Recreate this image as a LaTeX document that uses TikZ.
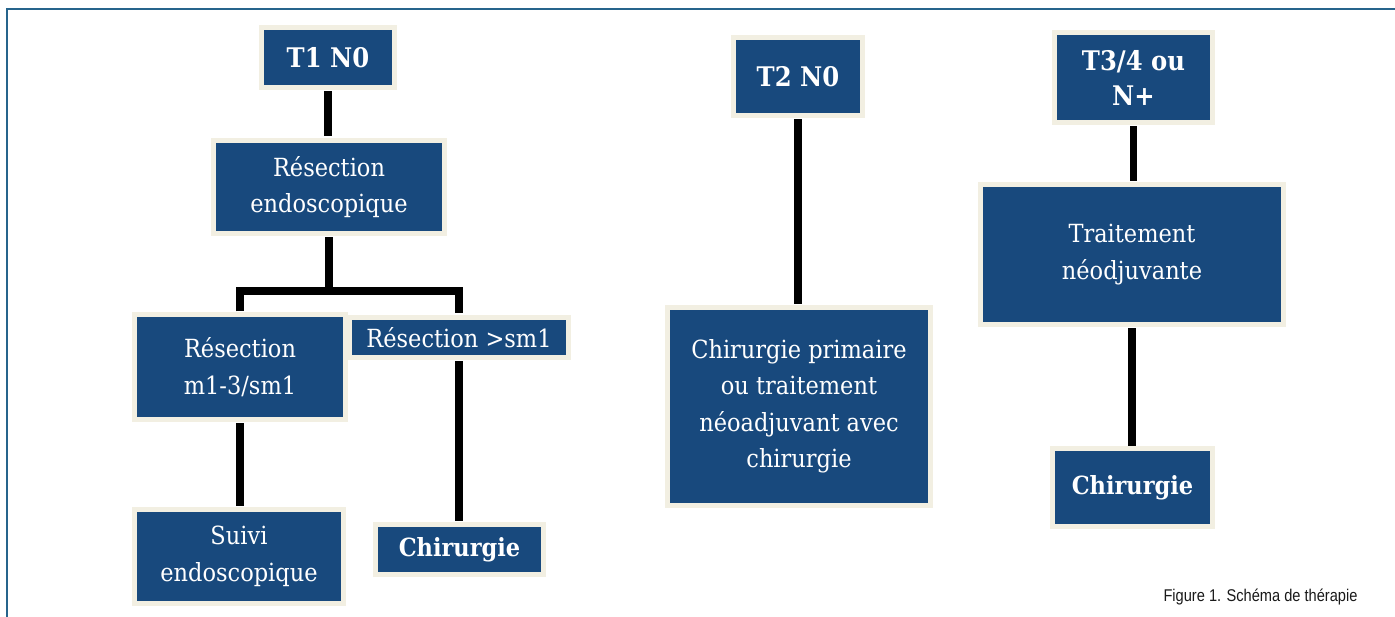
\documentclass[tikz,border=0pt]{standalone}
\usepackage{fontspec}
\setmainfont[FakeStretch=0.9]{DejaVu Serif}
\newfontfamily\capfont[FakeStretch=0.86]{Liberation Sans}
\usetikzlibrary{calc}
\definecolor{boxblue}{RGB}{24,73,125}
\definecolor{cream}{RGB}{242,239,226}
\definecolor{framec}{RGB}{38,100,140}
\tikzset{
  box/.style={rectangle, fill=boxblue, draw=cream, line width=5pt, text=white,
    align=center, outer sep=0pt, inner sep=0pt,
    font=\fontsize{25}{36.5}\selectfont},
  boldbox/.style={box, font=\bfseries\fontsize{27}{35}\selectfont},
  chirbox/.style={box, font=\bfseries\fontsize{25}{34}\selectfont},
  conn/.style={line width=7.5pt, black, line cap=butt, line join=miter},
  caption/.style={anchor=east, text=black!90, font=\capfont\fontsize{17}{19}\selectfont}
}
\begin{document}
\begin{tikzpicture}[x=1pt,y=-1pt]
\useasboundingbox (0,0) rectangle (1395,617);
% frame
\draw[framec, line width=1.6pt] (7,617) -- (7,9) -- (1395,9);

% left tree
\node[boldbox, minimum width=133pt, minimum height=60pt] (t1) at (328,57.5) {T1 N0};
\node[box, minimum width=231pt, minimum height=93pt] (res) at (329,187) {Résection\\endoscopique};
\node[box, minimum width=211pt, minimum height=105pt] (m1) at (240,367) {Résection\\m1-3/sm1};
\node[box, minimum width=219pt, minimum height=40pt] (sm1) at (459,337.5) {Résection >sm1};
\node[box, minimum width=209pt, minimum height=94pt] (suivi) at (239,556.5) {Suivi\\endoscopique};
\node[chirbox, minimum width=168pt, minimum height=50pt] (chir1) at (459.5,549.5) {Chirurgie};

% middle
\node[boldbox, minimum width=129pt, minimum height=78pt] (t2) at (798,76.5) {T2 N0};
\node[box, minimum width=263pt, minimum height=198pt] (prim) at (799,406.5) {Chirurgie primaire\\ou traitement\\néoadjuvant avec\\chirurgie};

% right
\node[boldbox, minimum width=158pt, minimum height=90pt] (t3) at (1133.5,77.5) {T3/4 ou\\N+};
\node[box, minimum width=303pt, minimum height=140pt] (trait) at (1132,254.5) {Traitement\\néodjuvante};
\node[chirbox, minimum width=160pt, minimum height=78pt] (chir2) at (1132.5,487.5) {Chirurgie};

% connectors
\coordinate (brm) at (331,291);
\draw[conn, shorten <=4pt, shorten >=4pt] (t1.south) -- (t1.south |- res.north);
\draw[conn, shorten <=4pt] (res.south) -- (res.south |- brm);
\draw[conn, shorten <=3pt, shorten >=4pt] (m1.north) |- (brm) -| (sm1.north);
\draw[conn, shorten <=4pt, shorten >=4pt] (m1.south) -- (m1.south |- suivi.north);
\draw[conn, shorten <=4pt, shorten >=4pt] (sm1.south) -- (sm1.south |- chir1.north);
\draw[conn, shorten <=4pt, shorten >=3pt] (t2.south) -- (t2.south |- prim.north);
\draw[conn, shorten <=4pt, shorten >=3pt] (t3.south) -- (t3.south |- trait.north);
\draw[conn, shorten <=4pt, shorten >=3pt] (trait.south) -- (trait.south |- chir2.north);

% caption
\node[caption] (cap) at (1361,597) {Figure 1. Schéma de thérapie};
\end{tikzpicture}
\end{document}
